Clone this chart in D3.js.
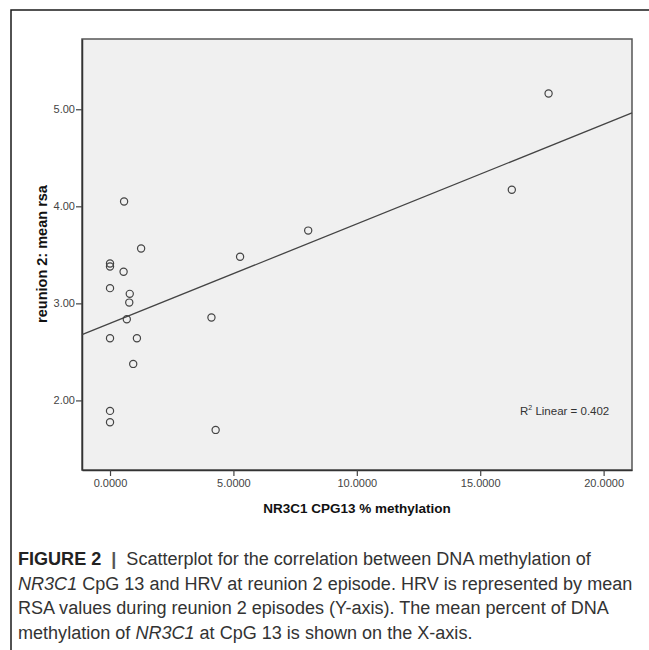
<!DOCTYPE html>
<html>
<head>
<meta charset="utf-8">
<script src="https://cdn.jsdelivr.net/npm/d3@7"></script>
<style>
  body { margin: 0; background: #fff; }
  svg { display: block; }
</style>
</head>
<body>
<div id="chart"></div>
<script>
((() => {

  // methylation % (x) and mean rsa at reunion 2 (y)
  const methylation = [0.57, 1.26, 0, 0, 0.55, 0, 0.80, 0.78, 0.68, 0, 1.09, 0.94, 0, 0, 4.11, 4.28, 5.27, 8.03, 16.28, 17.77];
  const meanRsa = [4.05, 3.565, 3.41, 3.38, 3.325, 3.157, 3.098, 3.008, 2.837, 2.641, 2.641, 2.376, 1.892, 1.775, 2.854, 1.696, 3.48, 3.75, 4.17, 5.163];

  const xTicks = [0, 5, 10, 15, 20];
  const yTicks = [2, 3, 4, 5];
  const rSquaredLabel = "0.402";

  const captionLines = [
    [["FIGURE 2", "bold"], ["  |  ", "bar"], ["Scatterplot for the correlation between DNA methylation of", ""]],
    [["NR3C1", "italic"], [" CpG 13 and HRV at reunion 2 episode. HRV is represented by mean", ""]],
    [["RSA values during reunion 2 episodes (Y-axis). The mean percent of DNA", ""]],
    [["methylation of ", ""], ["NR3C1", "italic"], [" at CpG 13 is shown on the X-axis.", ""]]
  ];

  let width = 649;
  let height = 650;

  let svg = d3.select("#chart")
    .append("svg")
    .attr("width", width)
    .attr("height", height);

  // outer frame of the figure image
  svg.append("path")
    .attr("d", "M11,650 V10 H649")
    .attr("fill", "none")
    .attr("stroke", "#1a1a1a")
    .attr("stroke-width", 1.5);

  let plot = { left: 82, right: 632, top: 39, bottom: 470 };

  let x = d3.scaleLinear().domain([-1.135, 21.15]).range([plot.left, plot.right]);
  let y = d3.scaleLinear().domain([1.283, 5.724]).range([plot.bottom, plot.top]);

  svg.append("rect")
    .attr("x", plot.left)
    .attr("y", plot.top)
    .attr("width", plot.right - plot.left)
    .attr("height", plot.bottom - plot.top)
    .attr("fill", "#f0f0f0")
    .attr("stroke", "#555")
    .attr("stroke-width", 1.5);

  // axes
  let xAxis = svg.append("g")
    .attr("transform", `translate(0,${plot.bottom})`)
    .call(d3.axisBottom(x).tickValues(xTicks).tickFormat(d3.format(".4f")).tickSize(6).tickSizeOuter(0));
  let yAxis = svg.append("g")
    .attr("transform", `translate(${plot.left},0)`)
    .call(d3.axisLeft(y).tickValues(yTicks).tickFormat(d3.format(".2f")).tickSize(6).tickSizeOuter(0));

  [xAxis, yAxis].forEach(a => {
    a.select(".domain").attr("stroke", "#333").attr("stroke-width", 1.5);
    a.selectAll(".tick line").attr("stroke", "#444").attr("stroke-width", 1.2);
    a.selectAll(".tick text")
      .attr("fill", "#444")
      .style("font-family", "'Liberation Sans', Arial, sans-serif")
      .style("font-size", "11px");
  });
  xAxis.selectAll(".tick text").attr("dy", "0.71em").attr("y", 9);
  yAxis.selectAll(".tick text").attr("x", -7);

  // axis titles
  svg.append("text")
    .attr("x", (plot.left + plot.right) / 2)
    .attr("y", 513)
    .attr("text-anchor", "middle")
    .style("font-family", "'Liberation Sans', Arial, sans-serif")
    .style("font-size", "13.5px")
    .style("font-weight", "bold")
    .attr("fill", "#111")
    .text("NR3C1 CPG13 % methylation");

  svg.append("text")
    .attr("transform", "translate(47,254) rotate(-90)")
    .attr("text-anchor", "middle")
    .style("font-family", "'Liberation Sans', Arial, sans-serif")
    .style("font-size", "14.5px")
    .style("font-weight", "bold")
    .attr("fill", "#111")
    .text("reunion 2: mean rsa");

  // least squares fit line
  let mx = d3.mean(methylation), my = d3.mean(meanRsa);
  let sxy = d3.sum(methylation, (v, i) => (v - mx) * (meanRsa[i] - my));
  let sxx = d3.sum(methylation, v => (v - mx) * (v - mx));
  let slope = sxy / sxx;
  let intercept = my - slope * mx;
  let [x0, x1] = x.domain();

  svg.append("line")
    .attr("x1", x(x0))
    .attr("y1", y(intercept + slope * x0))
    .attr("x2", x(x1))
    .attr("y2", y(intercept + slope * x1))
    .attr("stroke", "#444")
    .attr("stroke-width", 1.3);

  // points
  svg.append("g")
    .selectAll("circle")
    .data(methylation)
    .enter()
    .append("circle")
    .attr("cx", d => x(d))
    .attr("cy", (d, i) => y(meanRsa[i]))
    .attr("r", 3.6)
    .attr("fill", "none")
    .attr("stroke", "#444")
    .attr("stroke-width", 1.2);

  // R² annotation
  let r2 = svg.append("text")
    .attr("x", 520)
    .attr("y", 415)
    .style("font-family", "'Liberation Sans', Arial, sans-serif")
    .style("font-size", "11.5px")
    .attr("fill", "#333");
  r2.append("tspan").text("R");
  r2.append("tspan").attr("dy", -5).style("font-size", "7px").text("2");
  r2.append("tspan").attr("dy", 5).text(" Linear = " + rSquaredLabel);

  // caption
  let caption = svg.append("g")
    .style("font-family", "'Liberation Sans', Arial, sans-serif")
    .style("font-size", "18px");

  let lineTexts = captionLines.map((parts, li) => {
    let t = caption.append("text")
      .attr("x", 18)
      .attr("y", 565 + li * 24.7)
      .attr("fill", "#333")
      .style("white-space", "pre");
    parts.forEach(([s, kind]) => {
      let ts = t.append("tspan").text(s);
      if (kind === "bold") ts.style("font-weight", "bold").attr("fill", "#222");
      if (kind === "bar") ts.style("font-weight", "bold").attr("fill", "#555");
      if (kind === "italic") ts.style("font-style", "italic");
    });
    return t;
  });

  // fit the caption width to the figure column
  let w2 = lineTexts[1].node().getComputedTextLength();
  caption.style("font-size", (18 * 615 / w2) + "px");

})());
</script>
</body>
</html>
